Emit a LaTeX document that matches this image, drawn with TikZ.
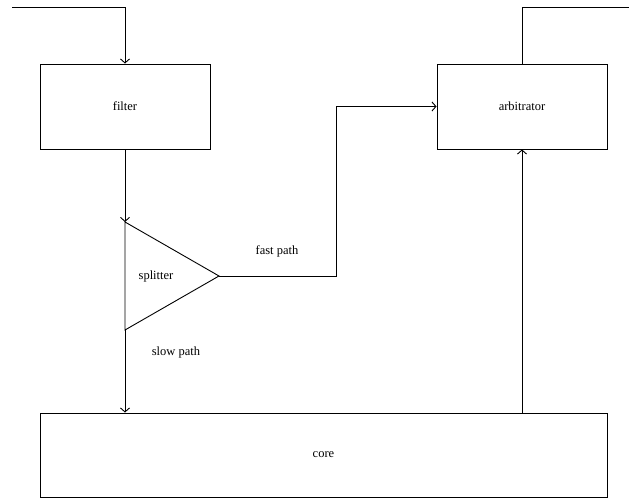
\documentclass[tikz,border=0pt]{standalone}
\usepackage{fontspec}
\setmainfont{Liberation Serif}
\usetikzlibrary{arrows.meta}
\begin{document}
\begin{tikzpicture}[x=1pt,y=-1pt,
  blk/.style={draw,line width=0.9pt,minimum width=170pt,minimum height=85pt,inner sep=0pt,font=\fontsize{12.5}{14}\selectfont},
  lbl/.style={font=\fontsize{12.5}{14}\selectfont,inner sep=0pt},
  conn/.style={draw,line width=0.9pt,-{Straight Barb[length=4pt,width=9pt]}}]
\useasboundingbox (0,0) rectangle (629,502);
\node[blk] (filter) at (125,106.5) {filter};
\node[blk] (arb) at (522,106.5) {arbitrator};
\node[blk,minimum width=567pt,minimum height=84pt] (core) at (323.5,455) {core};
\coordinate (sptop) at (125,222);
\coordinate (spbot) at (125,330);
\coordinate (sptip) at (219,276);
\draw[line width=0.9pt] (sptop) -- (sptip) -- (spbot) -- cycle;
\node[lbl] (splab) at (156,276) {splitter};
\coordinate (inl) at (12,7);
\coordinate (outr) at (629,7);
\coordinate (bend) at (336,276);
\draw[conn] (inl) -| (filter.north);
\draw[line width=0.9pt] (arb.north) |- (outr);
\draw[conn] (filter.south) -- (sptop);
\draw[conn] (sptip) -- (bend) |- (arb.west);
\draw[conn] (spbot) -- (core.north -| spbot);
\draw[conn] (core.north -| arb) -- (arb.south);
\node[lbl] (fast) at (277,251) {fast path};
\node[lbl] (slow) at (176,352) {slow path};
\end{tikzpicture}
\end{document}
